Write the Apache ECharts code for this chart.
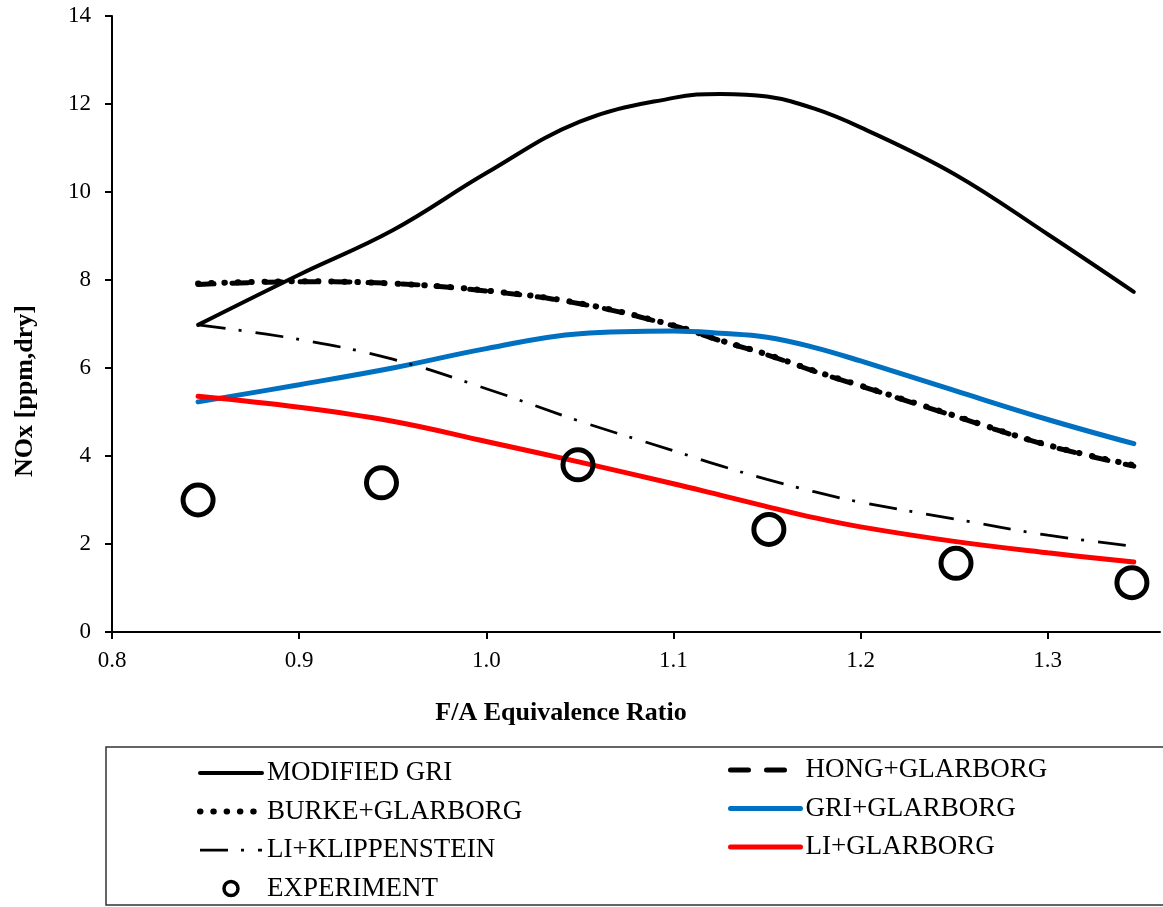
<!DOCTYPE html>
<html><head><meta charset="utf-8">
<script src="https://cdn.jsdelivr.net/npm/echarts@6/dist/echarts.min.js"></script>
<style>html,body{margin:0;padding:0;background:#fff}#c{width:1163px;height:907px}</style>
</head><body><div id="c"></div>
<script>
// F/A equivalence ratio sample points for model curves
const phi = [0.846, 0.9, 0.95, 1.0, 1.05, 1.1, 1.125, 1.15, 1.175, 1.2, 1.25, 1.3, 1.346];
const modifiedGri   = [6.98, 8.12, 9.13, 10.43, 11.60, 12.14, 12.23, 12.17, 11.90, 11.47, 10.41, 9.04, 7.73];
const hongGlarborg  = [7.90, 7.96, 7.92, 7.75, 7.46, 6.96, 6.62, 6.30, 5.93, 5.59, 4.91, 4.24, 3.77];
const burkeGlarborg = [7.92, 7.97, 7.92, 7.76, 7.47, 6.97, 6.63, 6.31, 5.94, 5.60, 4.92, 4.25, 3.79];
const griGlarborg   = [5.23, 5.62, 6.00, 6.44, 6.78, 6.84, 6.79, 6.70, 6.47, 6.16, 5.49, 4.83, 4.28];
const liKlippenstein= [6.98, 6.65, 6.20, 5.53, 4.79, 4.12, 3.78, 3.47, 3.19, 2.95, 2.57, 2.20, 1.95];
const liGlarborg    = [5.36, 5.11, 4.79, 4.33, 3.86, 3.37, 3.11, 2.85, 2.60, 2.39, 2.06, 1.80, 1.59];
// Experiment
const expPhi = [0.846, 0.944, 1.049, 1.151, 1.251, 1.345];
const expNOx = [3.00, 3.39, 3.80, 2.33, 1.56, 1.12];
// Axis ticks
const xTicks = [0.8, 0.9, 1.0, 1.1, 1.2, 1.3];
const yTicks = [0, 2, 4, 6, 8, 10, 12, 14];
const names = ['MODIFIED GRI','HONG+GLARBORG','BURKE+GLARBORG','GRI+GLARBORG','LI+KLIPPENSTEIN','LI+GLARBORG','EXPERIMENT'];

const FONT = '"Liberation Serif","Times New Roman",serif';
const pairs = (xs, ys) => xs.map((x, i) => [x, ys[i]]);

const styles = [
  {color: '#000', width: 4, cap: 'round'},
  {color: '#000', width: 5, type: [16, 18], cap: 'round'},
  {color: '#000', width: 6, type: [0.5, 12.8], cap: 'round'},
  {color: '#0070C0', width: 5, cap: 'round'},
  {color: '#000', width: 2.75, type: [28, 13, 3, 14]},
  {color: '#FF0000', width: 5, cap: 'round'}
];

const legendItem = (i, extra) => ({name: names[i], itemStyle: {opacity: 0}, lineStyle: Object.assign({}, styles[i], extra || {})});

const chart = echarts.init(document.getElementById('c'), null, {renderer: 'canvas'});
const lineBase = {type: 'line', symbol: 'none', smooth: 0.4, z: 2};

chart.setOption({
  animation: false,
  backgroundColor: '#fff',
  grid: {left: 112, right: 3, top: 16, bottom: 275, containLabel: false},
  xAxis: {
    type: 'value', min: 0.8, max: 1.36,
    axisLine: {show: true, lineStyle: {color: '#000', width: 2}},
    axisTick: {show: true, inside: false, length: 7, lineStyle: {color: '#000', width: 2}, customValues: xTicks},
    axisLabel: {customValues: xTicks, formatter: v => v.toFixed(1), color: '#000', fontFamily: FONT, fontSize: 23, margin: 17},
    splitLine: {show: false}
  },
  yAxis: {
    type: 'value', min: 0, max: 14, interval: 2,
    axisLine: {show: true, lineStyle: {color: '#000', width: 2}},
    axisTick: {show: true, inside: false, length: 7, lineStyle: {color: '#000', width: 2}, customValues: yTicks},
    axisLabel: {customValues: yTicks, color: '#000', fontFamily: FONT, fontSize: 23, margin: 21},
    splitLine: {show: false}
  },
  legend: [
    {
      orient: 'vertical', left: 197, top: 758, height: 148, padding: 0, itemWidth: 62, itemHeight: 14, itemGap: 8.5,
      data: [legendItem(0), legendItem(2), legendItem(4),
             {name: names[6], itemStyle: {opacity: 1, color: 'rgba(255,255,255,0)', borderColor: '#000', borderWidth: 3.5}}],
      textStyle: {color: '#000', fontFamily: FONT, fontSize: 27, lineHeight: 30},
      selectedMode: false
    },
    {
      orient: 'vertical', left: 728, top: 755, height: 148, padding: 0, itemWidth: 70, itemHeight: 14, itemGap: 8.5,
      data: [legendItem(1, {type: [18, 18]}), legendItem(3), legendItem(5)],
      textStyle: {color: '#000', fontFamily: FONT, fontSize: 27, lineHeight: 30},
      selectedMode: false
    }
  ],
  graphic: [
    {type: 'rect', shape: {x: 106, y: 747, width: 1070, height: 158}, style: {fill: 'none', stroke: '#333', lineWidth: 1.5}, silent: true},
    {type: 'text', x: 561, y: 713, style: {text: 'F/A Equivalence Ratio', font: 'bold 26px ' + FONT, fill: '#000', align: 'center', verticalAlign: 'middle'}},
    {type: 'text', x: 25, y: 391, rotation: Math.PI / 2, style: {text: 'NOx [ppm,dry]', font: 'bold 26px ' + FONT, fill: '#000', align: 'center', verticalAlign: 'middle'}}
  ],
  series: [
    Object.assign({}, lineBase, {name: names[0], data: pairs(phi, modifiedGri), lineStyle: styles[0], itemStyle: {color: '#000'}}),
    Object.assign({}, lineBase, {name: names[1], data: pairs(phi, hongGlarborg), lineStyle: styles[1], itemStyle: {color: '#000'}}),
    Object.assign({}, lineBase, {name: names[2], data: pairs(phi, burkeGlarborg), lineStyle: styles[2], itemStyle: {color: '#000'}}),
    Object.assign({}, lineBase, {name: names[3], data: pairs(phi, griGlarborg), lineStyle: styles[3], itemStyle: {color: '#0070C0'}}),
    Object.assign({}, lineBase, {name: names[4], data: pairs(phi, liKlippenstein), lineStyle: styles[4], itemStyle: {color: '#000'}}),
    Object.assign({}, lineBase, {name: names[5], data: pairs(phi, liGlarborg), lineStyle: styles[5], itemStyle: {color: '#FF0000'}}),
    {type: 'scatter', name: names[6], data: pairs(expPhi, expNOx), symbol: 'circle', symbolSize: 30, z: 3,
     itemStyle: {color: 'rgba(255,255,255,0)', borderColor: '#000', borderWidth: 5, opacity: 1}}
  ]
});
</script>
</body></html>
